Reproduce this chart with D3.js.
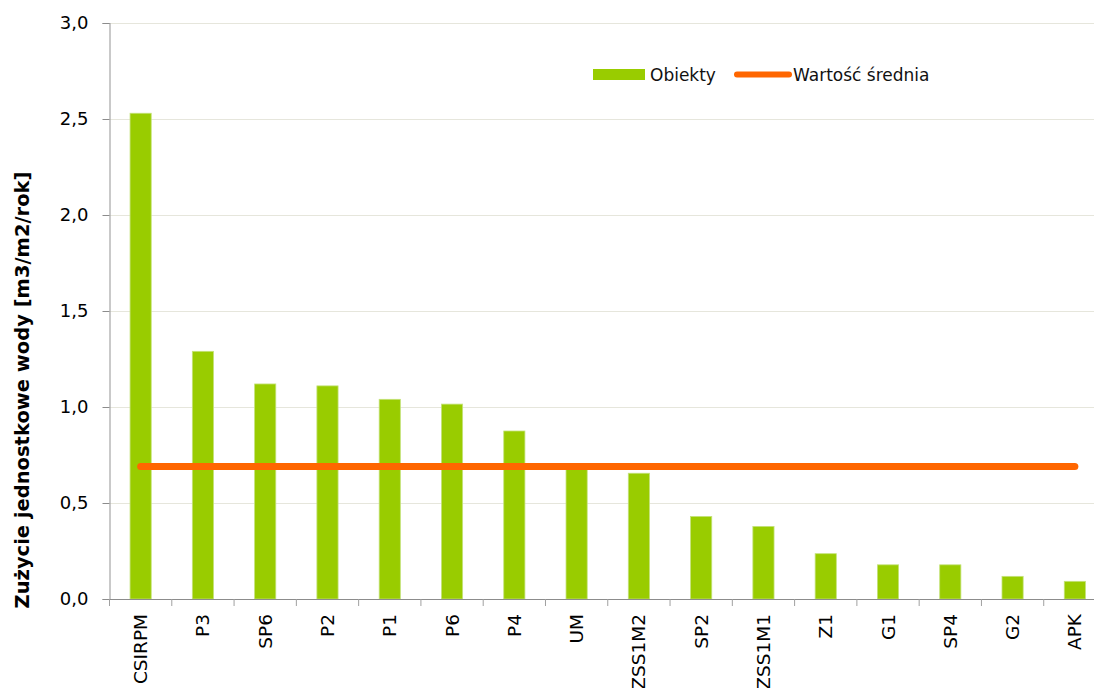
<!DOCTYPE html>
<html><head><meta charset="utf-8">
<script src="https://cdn.jsdelivr.net/npm/d3@7/dist/d3.min.js"></script>
<style>body{margin:0;background:#fff;}svg{display:block;}</style>
</head><body>
<svg id="c" width="1094" height="688"></svg>
<script>
const categories = ["CSIRPM","P3","SP6","P2","P1","P6","P4","UM","ZSS1M2","SP2","ZSS1M1","Z1","G1","SP4","G2","APK"];
const objectValues = [2.53,1.29,1.12,1.11,1.04,1.015,0.875,0.68,0.655,0.43,0.378,0.236,0.178,0.178,0.118,0.092];
const meanValues = [0.69,0.69,0.69,0.69,0.69,0.69,0.69,0.69,0.69,0.69,0.69,0.69,0.69,0.69,0.69,0.69];
const yTicks = [0,0.5,1.0,1.5,2.0,2.5,3.0];
const seriesNames = ["Obiekty","Wartość średnia"];
const yTitle = "Zużycie jednostkowe wody [m3/m2/rok]";

(function(){
const svg = d3.select("#c");
const pLeft = 109.5, pRight = 1106, pTop = 23, pBottom = 599;
const x = d3.scaleBand().domain(categories).range([pLeft, pRight]).paddingInner(0.66).paddingOuter(0.33);
const xTick = d3.scaleBand().domain(categories).range([pLeft, pRight]);
const y = d3.scaleLinear().domain([0,3]).range([pBottom, pTop]);
const font = "DejaVu Sans, Verdana, sans-serif";

// gridlines
svg.append("g").selectAll("line").data(yTicks.filter(d=>d>0)).join("line")
  .attr("x1", pLeft).attr("x2", 1094).attr("y1", d=>Math.round(y(d))+0.5).attr("y2", d=>Math.round(y(d))+0.5)
  .attr("stroke", "#e6e6dc").attr("stroke-width", 1);

// bars
svg.append("g").selectAll("rect").data(categories).join("rect")
  .attr("x", d=>x(d)).attr("width", x.bandwidth())
  .attr("y", (d,i)=>y(objectValues[i])).attr("height", (d,i)=>y(0)-y(objectValues[i]))
  .attr("fill", "#99cc00").attr("stroke", "#c4e27a").attr("stroke-width", 0.8);

// y axis
const yAxis = d3.axisLeft(y).tickValues(yTicks).tickSize(7).tickPadding(14)
  .tickFormat(d=>d3.format(".1f")(d).replace(".", ","));
const gy = svg.append("g").attr("transform", `translate(${pLeft},0)`).call(yAxis);
gy.select(".domain").attr("stroke", "#a6a6a6").attr("stroke-width", 1.2);
gy.selectAll(".tick line").attr("stroke", "#8c8c8c");
gy.selectAll("text").attr("font-family", font).attr("font-size", 18).attr("fill", "#000");

// x axis
const xAxis = d3.axisBottom(xTick).tickSize(0).tickPadding(0);
const gx = svg.append("g").attr("transform", `translate(0,${pBottom})`).call(xAxis);
gx.select(".domain").attr("stroke", "#8c8c8c").attr("stroke-width", 1.2);
gx.selectAll(".tick text").attr("font-family", font).attr("font-size", 18.5).attr("fill", "#000")
  .attr("transform", "rotate(-90)").attr("text-anchor", "end").attr("x", -15).attr("y", 0).attr("dy", "0.35em");
// category boundary ticks
const bounds = categories.map(c=>xTick(c)).concat([pRight]);
svg.append("g").selectAll("line").data(bounds).join("line")
  .attr("x1", d=>d).attr("x2", d=>d).attr("y1", pBottom).attr("y2", pBottom+7)
  .attr("stroke", "#a0a0a0").attr("stroke-width", 1);

// mean line
const line = d3.line().x((d,i)=>xTick(categories[i]) + xTick.bandwidth()/2).y(d=>y(d));
svg.append("path").datum(meanValues).attr("d", line).attr("fill", "none")
  .attr("stroke", "#ff6600").attr("stroke-width", 7).attr("stroke-linecap", "round");

// y title
svg.append("text").attr("transform", "translate(29,390) rotate(-90)").attr("text-anchor", "middle")
  .attr("font-family", "DejaVu Sans, sans-serif").attr("font-weight", "bold")
  .attr("font-size", 19.5).attr("fill", "#000").text(yTitle);

// legend
const lg = svg.append("g");
lg.append("rect").attr("x", 593).attr("y", 69).attr("width", 52).attr("height", 11).attr("fill", "#99cc00");
lg.append("text").attr("x", 650).attr("y", 75).attr("dy", "0.35em").attr("font-family", font).attr("font-size", 17).attr("fill", "#111").text(seriesNames[0]);
lg.append("line").attr("x1", 737).attr("x2", 789).attr("y1", 74.5).attr("y2", 74.5).attr("stroke", "#ff6600").attr("stroke-width", 6).attr("stroke-linecap", "round");
lg.append("text").attr("x", 793).attr("y", 75).attr("dy", "0.35em").attr("font-family", font).attr("font-size", 17).attr("fill", "#111").text(seriesNames[1]);
})();
</script>
</body></html>
